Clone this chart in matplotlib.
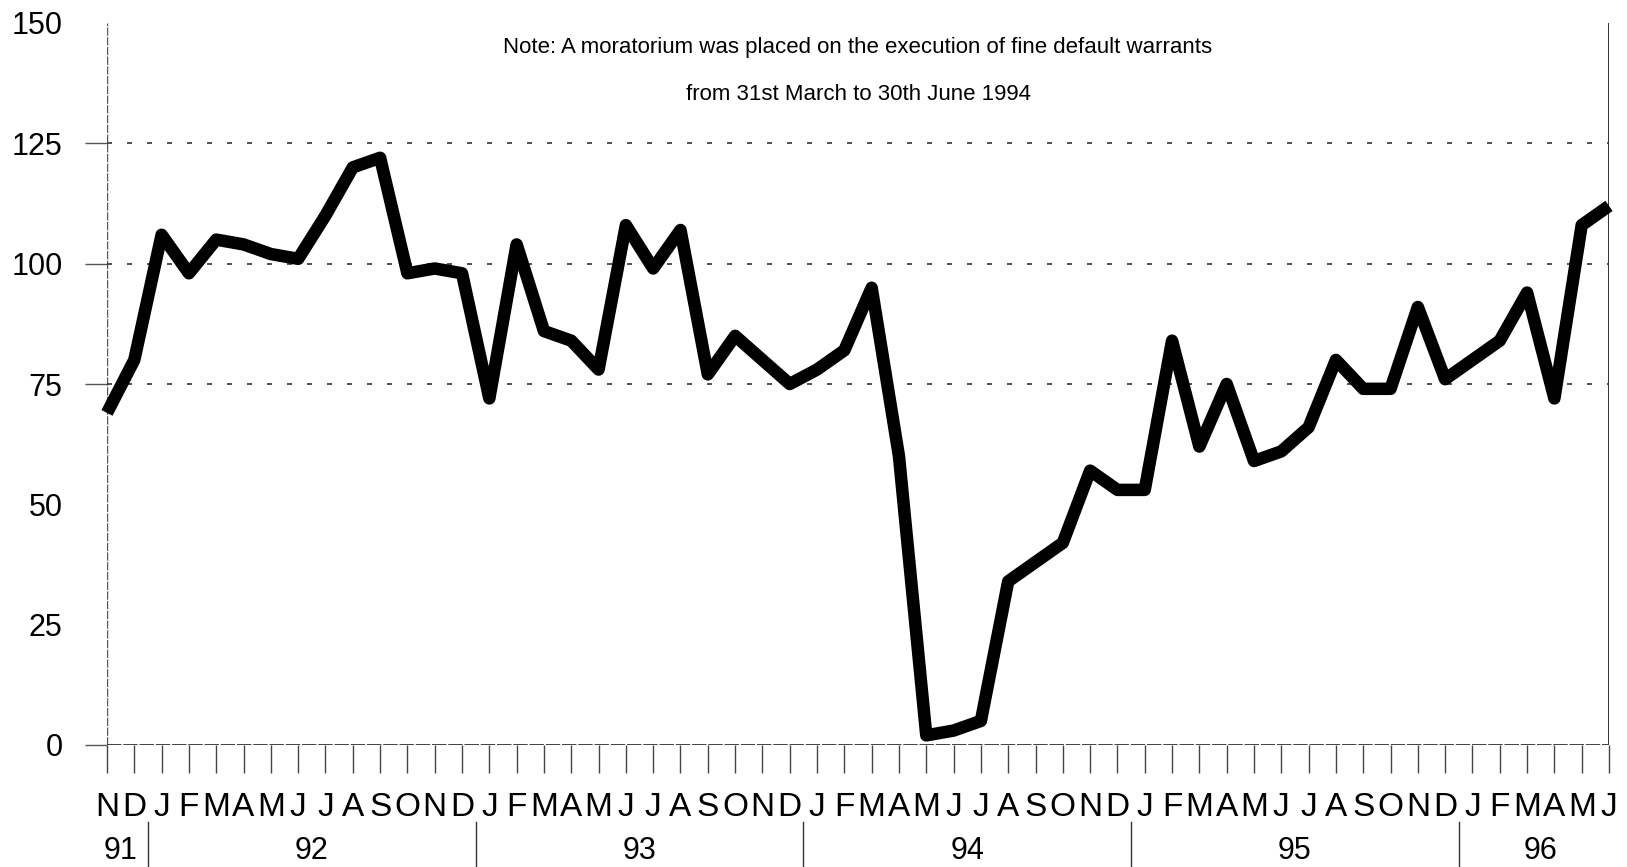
import matplotlib.pyplot as plt
import numpy as np

# monthly series, Nov 1991 .. Jun 1996
months = ["N", "D",
          "J", "F", "M", "A", "M", "J", "J", "A", "S", "O", "N", "D",
          "J", "F", "M", "A", "M", "J", "J", "A", "S", "O", "N", "D",
          "J", "F", "M", "A", "M", "J", "J", "A", "S", "O", "N", "D",
          "J", "F", "M", "A", "M", "J", "J", "A", "S", "O", "N", "D",
          "J", "F", "M", "A", "M", "J"]
values = [69, 80,
          106, 98, 105, 104, 102, 101, 110, 120, 122, 98, 99, 98,
          72, 104, 86, 84, 78, 108, 99, 107, 77, 85, 80, 75,
          78, 82, 95, 60, 2, 3, 5, 34, 38, 42, 57, 53,
          53, 84, 62, 75, 59, 61, 66, 80, 74, 74, 91, 76,
          80, 84, 94, 72, 108, 112]
years = ["91", "92", "93", "94", "95", "96"]
year_months = [2, 12, 12, 12, 12, 6]
y_ticks = [0, 25, 50, 75, 100, 125, 150]
grid_levels = [75, 100, 125]
note = ("Note: A moratorium was placed on the execution of fine default warrants\n"
        "from 31st March to 30th June 1994")

FONT = ["Liberation Sans", "DejaVu Sans"]

x = np.arange(len(values))

fig = plt.figure(figsize=(16.27, 8.67), dpi=100)
ax = fig.add_axes([107 / 1627, 1 - 745 / 867, (1609 - 107) / 1627, (745 - 23) / 867])

ax.set_xlim(0, len(values) - 1)
ax.set_ylim(0, 150)

for s in ax.spines.values():
    s.set_visible(False)
ax.axvline(0, color="#555555", lw=1.0, ls=(0, (6, 1)))
ax.axvline(len(values) - 1, color="#222222", lw=1.3)

for v in grid_levels:
    ax.axhline(v, color="#333333", lw=1.2, ls=(0, (3, 9)))
ax.axhline(0, color="#333333", lw=1.3, ls=(0, (8, 1)))

ax.plot(x, values, color="black", lw=9, solid_joinstyle="round",
        solid_capstyle="butt", clip_on=False, zorder=5)

ax.set_yticks(y_ticks)
ax.set_yticklabels([str(t) for t in y_ticks], family=FONT, fontsize=22)
ax.tick_params(axis="y", length=16, width=1.0, color="#555555", pad=16)
# only the gridline levels carry a visible dash on the left
for t, tick in zip(y_ticks, ax.yaxis.get_major_ticks()):
    if t not in grid_levels and t != 0:
        tick.tick1line.set_visible(False)

ax.set_xticks(x)
ax.set_xticklabels(months, family=FONT, fontsize=24)
ax.tick_params(axis="x", direction="out", length=20, width=1.0, color="#444444", pad=14)

# year labels and separators below month letters
start = 0
trans = ax.get_xaxis_transform()
for i, (yr, n) in enumerate(zip(years, year_months)):
    center = start + (n - 1) / 2
    ax.text(center, -0.147, yr, transform=trans, ha="center", va="center",
            family=FONT, fontsize=22)
    if i < len(years) - 1:
        sep = start + n - 0.5
        ax.plot([sep, sep], [-0.107, -0.17], transform=trans, color="#333333",
                lw=1.0, clip_on=False)
    start += n

ax.text(0.5, 0.98, note, transform=ax.transAxes, ha="center", va="top",
        family=FONT, fontsize=16, linespacing=2.6)

fig.savefig("out.png", dpi=100)
